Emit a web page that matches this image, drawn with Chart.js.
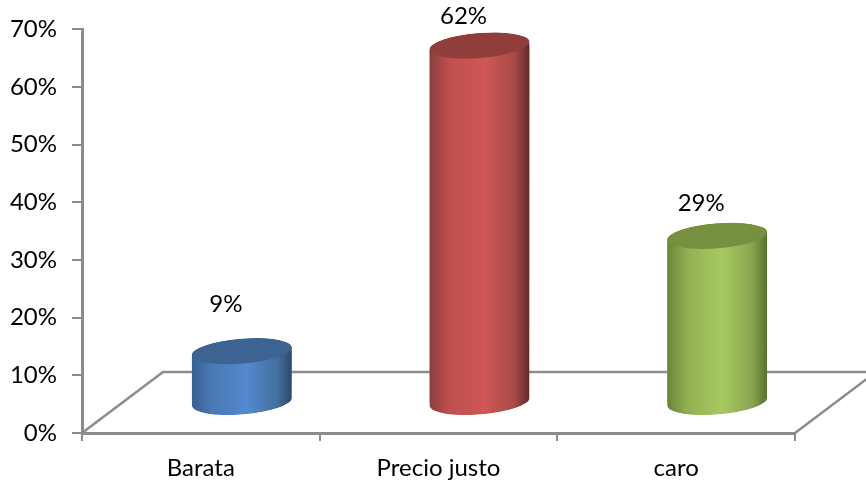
<!DOCTYPE html>
<html>
<head>
<meta charset="utf-8">
<title>Precio</title>
<script src="https://cdn.jsdelivr.net/npm/chart.js@4/dist/chart.umd.min.js"></script>
<style>
  html, body { margin: 0; padding: 0; background: #fff; }
  canvas { display: block; }
</style>
</head>
<body>
<canvas id="chart" width="866" height="480"></canvas>
<script>
const categories = ["Barata", "Precio justo", "caro"];
const percentValues = [9, 62, 29];
const yTickValues = [0, 10, 20, 30, 40, 50, 60, 70];

// gradient stops across each cylinder, then its lid
const shades = [
    ["#37608f", "#4a79b4", "#5389cf", "#44709f", "#2b486c", "#3c6392"],
    ["#8a3d3c", "#bf504e", "#cf5755", "#a84a48", "#5f2a29", "#8f3e3c"],
    ["#6a8439", "#92b053", "#a7c960", "#8aa44f", "#58702f", "#76903f"]
];
const stops = [0, 0.2, 0.55, 0.85, 1];

const greyLine = "#8c8c8c";
const shiftX = 41, shiftY = -30;   // bars stand in the middle of the floor
const floorX = 81, floorY = -61;
const ryLid = 12.5, tilt = -4.6 * Math.PI / 180;
const labelLift = [47, 29, 33];

function cylinderPath(ctx, bar) {
    const rx = bar.width / 2;
    const dy = Math.sin(-tilt) * rx;
    ctx.moveTo(bar.x - rx, bar.y + dy);
    ctx.lineTo(bar.x - rx, bar.base + dy);
    ctx.ellipse(bar.x, bar.base, rx, ryLid, tilt, Math.PI, 0, true);
    ctx.lineTo(bar.x + rx, bar.y - dy);
    ctx.ellipse(bar.x, bar.y, rx, ryLid, tilt, 0, Math.PI, true);
    ctx.closePath();
}

const cylinders = {
    id: "cylinders",
    beforeDatasetsDraw(chart) {
        const ctx = chart.ctx, x = chart.scales.x, y = chart.scales.y;
        const y0 = y.getPixelForValue(0);
        // floor
        ctx.save();
        ctx.strokeStyle = greyLine;
        ctx.lineWidth = 2.5;
        ctx.beginPath();
        ctx.moveTo(x.left, y0);
        ctx.lineTo(x.left + floorX, y0 + floorY);
        ctx.lineTo(chart.width, y0 + floorY);
        ctx.moveTo(x.right, y0);
        ctx.lineTo(x.right + floorX, y0 + floorY);
        ctx.stroke();
        ctx.restore();

        ctx.save();
        ctx.translate(shiftX, shiftY);
        ctx.beginPath();
        chart.getDatasetMeta(0).data.forEach(bar => cylinderPath(ctx, bar));
        ctx.clip();
    },
    afterDatasetsDraw(chart) {
        const ctx = chart.ctx;
        const bars = chart.getDatasetMeta(0).data;
        bars.forEach((bar, i) => {
            const rx = bar.width / 2;
            const g = ctx.createLinearGradient(bar.x - rx, 0, bar.x + rx, 0);
            stops.forEach((s, k) => g.addColorStop(s, shades[i][k]));
            ctx.fillStyle = g;
            ctx.beginPath();
            cylinderPath(ctx, bar);
            ctx.fill();
            ctx.fillStyle = shades[i][5];
            ctx.beginPath();
            ctx.ellipse(bar.x, bar.y, rx, ryLid, tilt, 0, Math.PI * 2);
            ctx.fill();
        });
        ctx.restore();

        // value labels
        ctx.save();
        ctx.font = "24px Lato";
        ctx.fillStyle = "#000";
        ctx.textAlign = "center";
        ctx.textBaseline = "middle";
        bars.forEach((bar, i) => {
            ctx.fillText(percentValues[i] + "%", bar.x + shiftX - 16, bar.y + shiftY - labelLift[i]);
        });
        ctx.restore();
    }
};

new Chart(document.getElementById("chart").getContext("2d"), {
    type: "bar",
    data: {
        labels: categories,
        datasets: [{
            data: percentValues,
            backgroundColor: shades.map(s => s[2]),
            barThickness: 100,
            clip: false
        }]
    },
    plugins: [cylinders],
    options: {
        responsive: false,
        animation: false,
        layout: { padding: { top: 26, right: 71, left: 0, bottom: 0 } },
        plugins: { legend: { display: false }, tooltip: { enabled: false } },
        scales: {
            x: {
                afterFit(scale) { scale.height = 47; },
                border: { color: greyLine, width: 3 },
                grid: { drawOnChartArea: false, color: greyLine, lineWidth: 2, tickLength: 8 },
                ticks: { color: "#000", font: { family: "Lato", size: 24 }, padding: 13, maxRotation: 0 }
            },
            y: {
                min: 0,
                max: 70,
                afterFit(scale) { scale.width = 82; },
                afterBuildTicks(scale) { scale.ticks = yTickValues.map(v => ({ value: v })); },
                border: { color: greyLine, width: 3 },
                grid: { drawOnChartArea: false, color: greyLine, lineWidth: 2, tickLength: 10 },
                ticks: {
                    color: "#000",
                    font: { family: "Lato", size: 24 },
                    padding: 15,
                    callback: v => v + "%"
                }
            }
        }
    }
});
</script>
</body>
</html>
